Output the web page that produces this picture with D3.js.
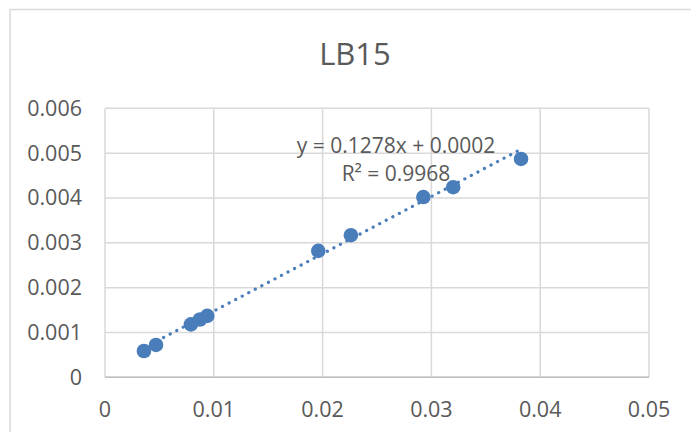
<!DOCTYPE html>
<html>
<head>
<meta charset="utf-8">
<script src="https://cdn.jsdelivr.net/npm/d3@7"></script>
<style>
  html, body { margin: 0; padding: 0; background: #fff; }
  svg { display: block; }
  text { font-family: "Open Sans", "Noto Sans", sans-serif; fill: #595959; }
</style>
</head>
<body>
<svg id="chart" width="691" height="432"></svg>
<script>
// Measured samples for LB15
const xValues = [0.00358, 0.00469, 0.0079, 0.00873, 0.0094, 0.0196, 0.0226, 0.02926, 0.0320, 0.03824];
const yValues = [0.000587, 0.000722, 0.00118, 0.00129, 0.00137, 0.00282, 0.00317, 0.00402, 0.00424, 0.00487];

// Linear trendline as reported
const slope = 0.1278;
const intercept = 0.0002;
const rSquared = 0.9968;

const xTicks = [0, 0.01, 0.02, 0.03, 0.04, 0.05];
const yTicks = [0, 0.001, 0.002, 0.003, 0.004, 0.005, 0.006];

const title = "LB15";
const blue = "#4a7ebb";
const grid = "#d9d9d9";

const svg = d3.select("#chart");

// chart area frame
svg.append("rect")
  .attr("x", 10).attr("y", 9.5)
  .attr("width", 700).attr("height", 440)
  .attr("fill", "#fff")
  .attr("stroke", grid).attr("stroke-width", 1.5);

const plot = { left: 105, right: 649, top: 108.3, bottom: 377.3 };

const x = d3.scaleLinear().domain([0, 0.05]).range([plot.left, plot.right]);
const y = d3.scaleLinear().domain([0, 0.006]).range([plot.bottom, plot.top]);

// title
svg.append("text")
  .attr("x", 355).attr("y", 65)
  .attr("text-anchor", "middle")
  .style("font-size", "31px")
  .text(title);

// gridlines
svg.append("g").selectAll("line").data(yTicks).join("line")
  .attr("x1", plot.left).attr("x2", plot.right)
  .attr("y1", d => y(d)).attr("y2", d => y(d))
  .attr("stroke", grid).attr("stroke-width", 1.5);

svg.append("g").selectAll("line").data(xTicks).join("line")
  .attr("x1", d => x(d)).attr("x2", d => x(d))
  .attr("y1", plot.top).attr("y2", plot.bottom)
  .attr("stroke", grid).attr("stroke-width", 1.5);

// bottom axis line
svg.append("line")
  .attr("x1", plot.left).attr("x2", plot.right)
  .attr("y1", plot.bottom).attr("y2", plot.bottom)
  .attr("stroke", "#bfbfbf").attr("stroke-width", 1.5);

// y tick labels
const fmt = d => d === 0 ? "0" : d3.format(".3f")(d);
svg.append("g").selectAll("text").data(yTicks).join("text")
  .attr("x", 82).attr("y", d => y(d))
  .attr("text-anchor", "end")
  .attr("dy", "0.35em")
  .style("font-size", "21.5px")
  .text(fmt);

// x tick labels
const fmtX = d => d === 0 ? "0" : d3.format(".2f")(d);
svg.append("g").selectAll("text").data(xTicks).join("text")
  .attr("x", d => x(d)).attr("y", 409)
  .attr("text-anchor", "middle")
  .attr("dy", "0.35em")
  .style("font-size", "21.5px")
  .text(fmtX);

// trendline
const xMin = d3.min(xValues), xMax = d3.max(xValues);
const trend = [xMin, xMax].map(v => [v, slope * v + intercept]);
svg.append("path")
  .attr("d", d3.line().x(d => x(d[0])).y(d => y(d[1]))(trend))
  .attr("fill", "none")
  .attr("stroke", blue)
  .attr("stroke-width", 3.2)
  .attr("stroke-linecap", "round")
  .attr("stroke-dasharray", "0.1 7.3");

// markers
const pts = xValues.map((v, i) => [v, yValues[i]]);
svg.append("g").selectAll("circle").data(pts).join("circle")
  .attr("cx", d => x(d[0])).attr("cy", d => y(d[1]))
  .attr("r", 7.3)
  .attr("fill", blue);

// trendline equation
const eq = svg.append("g");
eq.append("text")
  .attr("x", 396).attr("y", 153)
  .attr("text-anchor", "middle")
  .style("font-size", "21px")
  .text(`y = ${slope}x + ${intercept.toFixed(4)}`);
eq.append("text")
  .attr("x", 396).attr("y", 181)
  .attr("text-anchor", "middle")
  .style("font-size", "21px")
  .text(`R² = ${rSquared}`);
</script>
</body>
</html>
